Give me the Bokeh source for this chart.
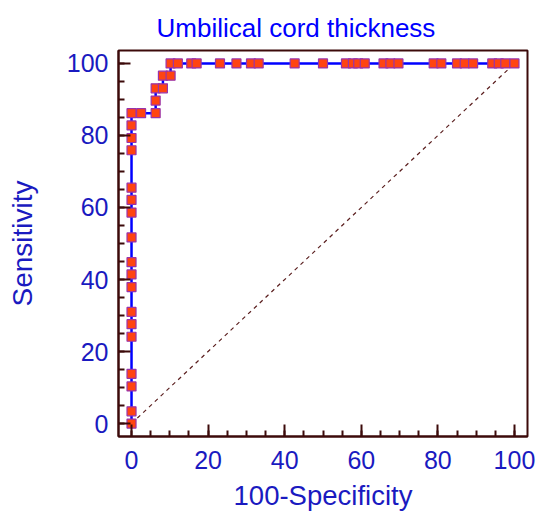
from bokeh.plotting import figure
from bokeh.models import FixedTicker, Range1d, ColumnDataSource
from bokeh.embed import file_html
from bokeh.resources import INLINE

title_text = "Umbilical cord thickness"
x_label = "100-Specificity"
y_label = "Sensitivity"
tick_values = [0, 20, 40, 60, 80, 100]
minor_values = list(range(0, 101, 5))

# ROC criterion points: 100-Specificity (x) and Sensitivity (y)
fpr = [0, 0, 0, 0, 0, 0, 0, 0, 0, 0, 0, 0, 0, 0, 0, 0, 0, 0,
       2.5, 6.3, 6.3, 6.3, 8.2, 8.2, 10.2, 10.2, 12.1, 15.6, 17.0,
       23.1, 27.4, 31.2, 33.2, 42.6, 50.0, 56.0, 57.8, 59.2, 60.9,
       65.8, 67.6, 69.7, 78.9, 80.9, 85.0, 87.0, 89.2, 94.2, 95.9, 97.6, 100]
tpr = [0, 3.4, 10.3, 13.8, 24.1, 27.6, 31.0, 37.9, 41.4, 44.8, 51.7, 58.6,
       62.1, 65.5, 75.9, 79.3, 82.8, 86.2,
       86.2, 86.2, 89.7, 93.1, 93.1, 96.6, 96.6, 100, 100, 100, 100,
       100, 100, 100, 100, 100, 100, 100, 100, 100, 100,
       100, 100, 100, 100, 100, 100, 100, 100, 100, 100, 100, 100]

diag_x = [0, 100]
diag_y = [0, 100]

AX = "#3c0a0a"
TXT = "#1a1ac0"
FONT = "Liberation Sans"

src = ColumnDataSource(dict(x=fpr, y=tpr))

p = figure(width=545, height=513, output_backend="svg", toolbar_location=None,
           x_range=Range1d(-3.4, 103.4), y_range=Range1d(-3.6, 103.6),
           min_border_left=118, min_border_right=18, min_border_top=50,
           min_border_bottom=73)
p.background_fill_color = "white"
p.border_fill_color = "white"
p.outline_line_color = AX
p.outline_line_width = 2
p.xgrid.visible = False
p.ygrid.visible = False

p.title.text = title_text
p.title.text_color = "#0000ff"
p.title.text_font = FONT
p.title.text_font_size = "26px"
p.title.text_font_style = "normal"
p.title.text_line_height = 0.85
p.title.align = "left"
p.title.offset = 38
p.title.standoff = 16

for ax in (p.xaxis[0], p.yaxis[0]):
    ax.ticker = FixedTicker(ticks=tick_values, minor_ticks=minor_values)
    ax.axis_line_color = AX
    ax.axis_line_width = 2
    ax.major_tick_line_color = AX
    ax.major_tick_line_width = 2
    ax.minor_tick_line_color = AX
    ax.minor_tick_line_width = 2
    ax.major_tick_in = 12
    ax.major_tick_out = 0
    ax.minor_tick_in = 6
    ax.minor_tick_out = 0
    ax.major_label_text_color = TXT
    ax.major_label_text_font = FONT
    ax.major_label_text_font_size = "25px"
    ax.axis_label_text_color = TXT
    ax.axis_label_text_font = FONT
    ax.axis_label_text_font_style = "normal"

p.xaxis.axis_label = x_label
p.yaxis.axis_label = y_label
p.xaxis.axis_label_text_font_size = "27.5px"
p.yaxis.axis_label_text_font_size = "28px"
p.xaxis.major_label_standoff = 14
p.xaxis.axis_label_standoff = 8
p.yaxis.major_label_standoff = 10
p.yaxis.axis_label_standoff = 26

p.line(diag_x, diag_y, line_color="#5a1e1e", line_width=1.2, line_dash="4 4")
p.line("x", "y", source=src, line_color="#0000ff", line_width=2.5)
p.scatter("x", "y", source=src, marker="square", size=9,
          fill_color="#ff4411", line_color="#9933aa", line_width=1.2)

open("out.html", "w").write(file_html(p, INLINE))
